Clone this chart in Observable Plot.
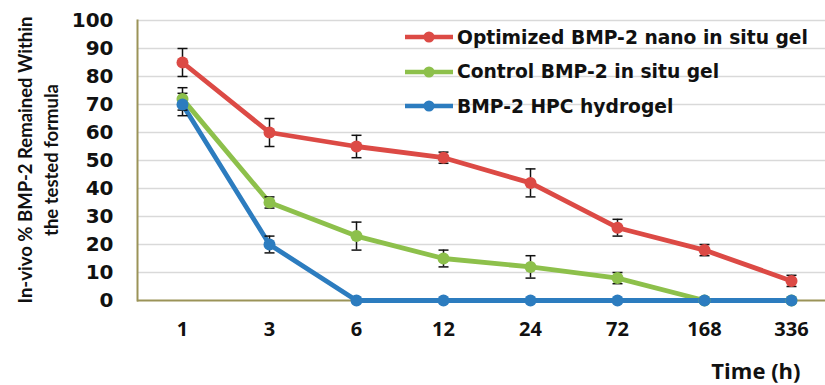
<!DOCTYPE html>
<html><head><meta charset="utf-8">
<script src="https://cdn.jsdelivr.net/npm/d3@7"></script>
<script src="https://cdn.jsdelivr.net/npm/@observablehq/plot@0.6"></script>
<style>
body{margin:0;background:#fff;}
#wrap{position:relative;width:825px;height:385px;overflow:hidden;}
#legend{position:absolute;left:404px;top:20px;font-family:"DejaVu Sans",sans-serif;font-weight:bold;font-size:18.7px;color:#111;}
#legend .row{display:flex;align-items:center;height:34.5px;}
#legend svg{margin-right:3px;}
</style></head>
<body><div id="wrap"><div id="chart"></div><div id="legend"></div></div>
<script>
const times = ["1","3","6","12","24","72","168","336"];
const seriesNames = ["Optimized BMP-2 nano in situ gel","Control BMP-2 in situ gel","BMP-2 HPC hydrogel"];
const seriesColors = ["#DC4A45","#8DC04B","#2C7CBF"];
const optimizedVals = [85,60,55,51,42,26,18,7];
const optimizedErr  = [5,5,4,2,5,3,2,2];
const controlVals   = [72,35,23,15,12,8,0,0];
const controlErr    = [4,2,5,3,4,2,0,0];
const hpcVals       = [70,20,0,0,0,0,0,0];
const hpcErr        = [4,3,0,0,0,0,0,0];
const yTicks = [0,10,20,30,40,50,60,70,80,90,100];

const allVals = [optimizedVals, controlVals, hpcVals];
const allErr = [optimizedErr, controlErr, hpcErr];
const data = [];
seriesNames.forEach((s, si) => times.forEach((t, i) => data.push({series: s, time: t, v: allVals[si][i], e: allErr[si][i]})));
const errData = data.filter(d => d.e > 0);

const capSymbol = {draw(ctx) { ctx.moveTo(-5, 0); ctx.lineTo(5, 0); }};
const axisColor = "#9B9358";
const plot = Plot.plot({
  width: 825, height: 385,
  marginLeft: 137, marginRight: -11, marginTop: 20, marginBottom: 85,
  style: {fontFamily: "DejaVu Sans, sans-serif", background: "white"},
  x: {type: "point", domain: times, padding: 0.5, label: null},
  y: {domain: [0, 100], label: null},
  color: {domain: seriesNames, range: seriesColors},
  marks: [
    Plot.ruleY(yTicks.filter(d => d > 0), {stroke: "#d9d9d9", strokeWidth: 1.5}),
    Plot.axisY({ticks: yTicks, tickSize: 0, tickPadding: 24, fontSize: 20, fontWeight: "bold", fill: "#111", label: null}),
    Plot.axisX({tickSize: 0, tickPadding: 21, fontSize: 20, fontWeight: "bold", fill: "#111", fontFamily: "Open Sans, sans-serif", label: null}),
    Plot.frame({anchor: "left", stroke: axisColor, strokeWidth: 2}),
    Plot.ruleY([0], {stroke: axisColor, strokeWidth: 2}),
    Plot.line(data, {x: "time", y: "v", z: "series", stroke: "series", strokeWidth: 4.8}),
    Plot.ruleX(errData, {x: "time", y1: d => d.v - d.e, y2: d => d.v + d.e, stroke: "#111", strokeWidth: 1.5}),
    Plot.dot(errData, {x: "time", y: d => d.v - d.e, symbol: capSymbol, stroke: "#111", strokeWidth: 1.5, fill: "none"}),
    Plot.dot(errData, {x: "time", y: d => d.v + d.e, symbol: capSymbol, stroke: "#111", strokeWidth: 1.5, fill: "none"}),
    Plot.dot(data, {x: "time", y: "v", fill: "series", r: 6}),
    Plot.text(["Time (h)"], {frameAnchor: "bottom-right", dx: -36, dy: 78, fontSize: 22, fontWeight: "bold", fill: "#111", fontFamily: "Open Sans, sans-serif"})
  ]
});
document.getElementById("chart").appendChild(plot);

const svg = d3.select(plot);
const yl = svg.append("text").attr("transform", "translate(0,160) rotate(-90)")
  .attr("text-anchor", "middle").attr("font-family", "Lato, sans-serif")
  .attr("font-weight", "bold").attr("font-size", 18.5).attr("fill", "#111");
yl.append("tspan").attr("x", 0).attr("y", 32).text("In-vivo % BMP-2 Remained Within");
yl.append("tspan").attr("x", 0).attr("y", 58).text("the tested formula");

const leg = d3.select("#legend");
seriesNames.forEach((s, i) => {
  const row = leg.append("div").attr("class", "row");
  const sv = row.append("svg").attr("width", 50).attr("height", 14);
  sv.append("line").attr("x1", 1).attr("x2", 49).attr("y1", 7).attr("y2", 7).attr("stroke", seriesColors[i]).attr("stroke-width", 4.5);
  sv.append("circle").attr("cx", 25).attr("cy", 7).attr("r", 5.5).attr("fill", seriesColors[i]);
  row.append("span").text(s);
});
</script></body></html>
